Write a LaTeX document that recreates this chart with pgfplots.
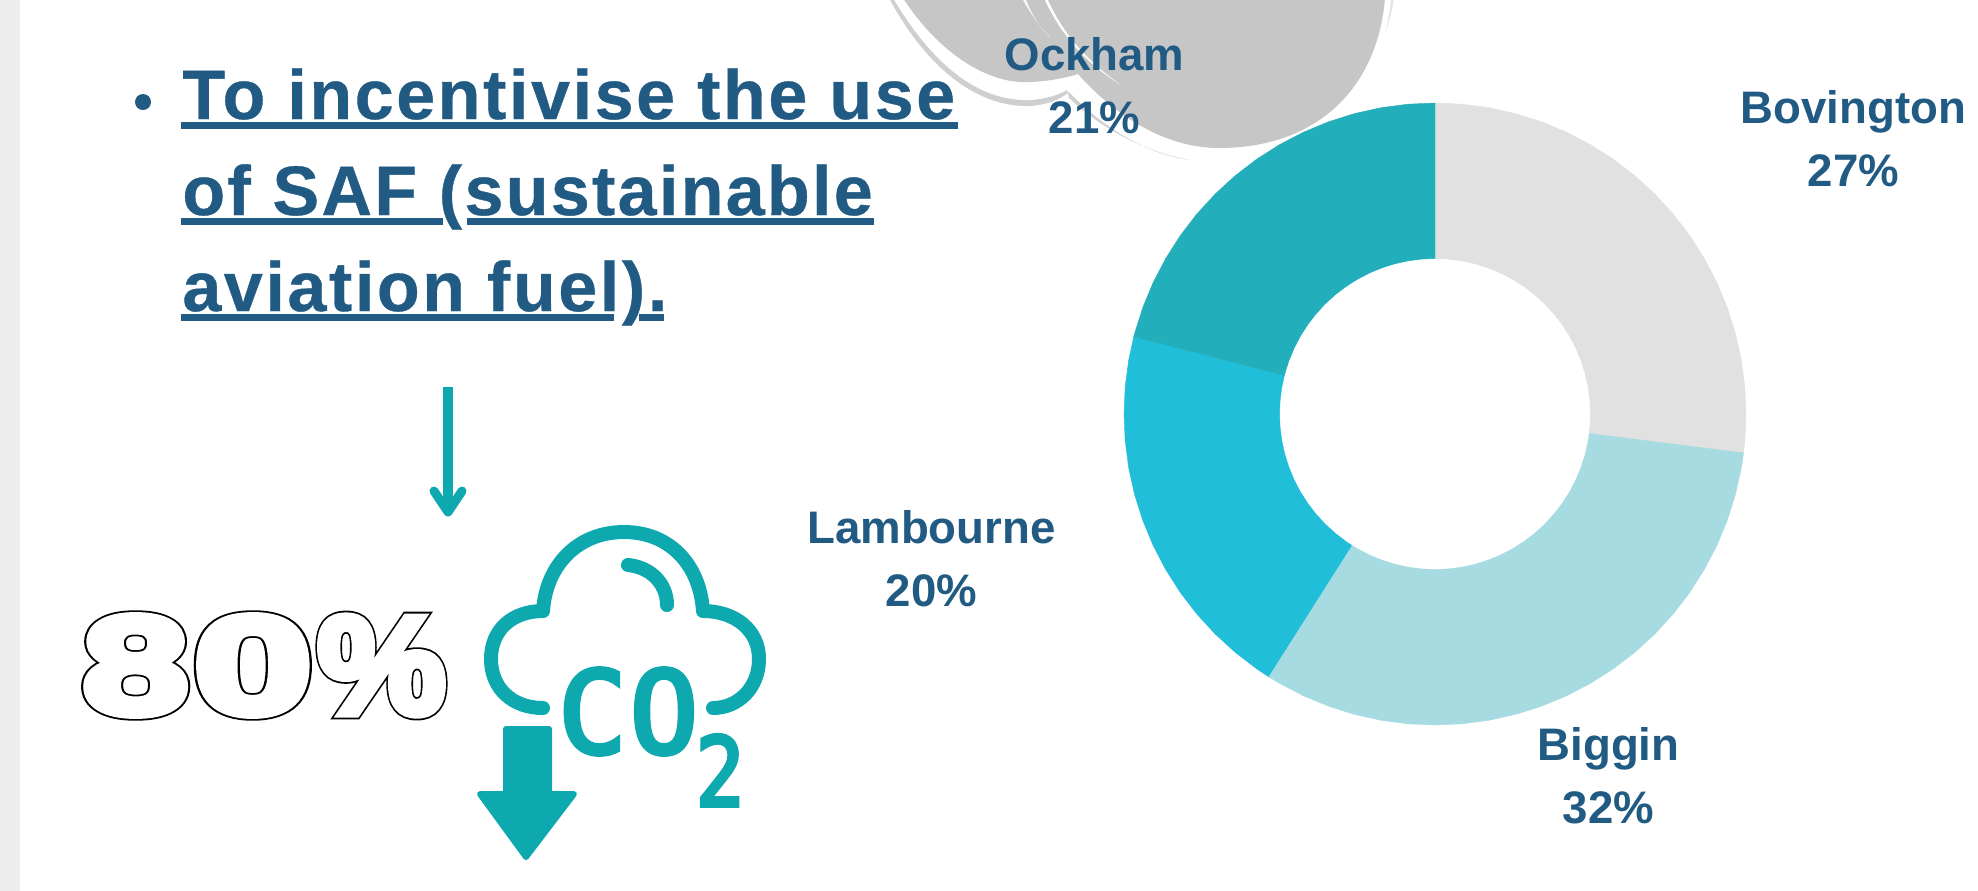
\documentclass[border=0pt]{standalone}
\usepackage{pgfplots}
\pgfplotsset{compat=1.18}
\usepackage{fontspec}
\setmainfont{Liberation Sans}
\newfontfamily\titlefont{Liberation Sans}[LetterSpace=3.7,FakeBold=0.5]
\newfontfamily\titlefontB{Liberation Sans}[LetterSpace=3.3,FakeBold=0.5]
\newfontfamily\heavyblack{Liberation Sans Bold}[FakeBold=9.2,FakeStretch=1.16]
\newfontfamily\heavywhite{Liberation Sans Bold}[FakeBold=6.6,FakeStretch=1.16]
\newfontfamily\iconfont{DejaVu Sans Mono}[FakeBold=4]

\definecolor{ink}{HTML}{215A82}
\definecolor{teal}{HTML}{0EA8AF}
\definecolor{blob}{HTML}{C6C6C6}
\definecolor{sliceA}{HTML}{E1E1E1}
\definecolor{sliceB}{HTML}{A6DBE2}
\definecolor{sliceC}{HTML}{20BED9}
\definecolor{sliceD}{HTML}{22AEBB}

% Outlined digits: a heavier black layer under a lighter white one
\newcommand{\outlined}[3]{%
  \node[anchor=base,inner sep=0pt,black,xscale=#3] at (#1,713) {\heavyblack\fontsize{69}{80}\selectfont #2};
  \node[anchor=base,inner sep=0pt,white,xscale=#3] at (#1,713) {\heavywhite\fontsize{69}{80}\selectfont #2};
}
% Two-line slice label, name above share
\newcommand{\slicelabel}[4]{%
  \node[anchor=base,inner sep=0pt,text=ink] at (#1,#2) {\bfseries\fontsize{22.8}{27}\selectfont #3};
  \node[anchor=base,inner sep=0pt,text=ink] at (#1,#2+63) {\bfseries\fontsize{22.8}{27}\selectfont #4};
}

\begin{document}
\begin{tikzpicture}[x=0.5pt,y=-0.5pt]
\path[use as bounding box] (0,0) rectangle (1978,890);
\clip (0,0) rectangle (1978,890);
\fill[white] (0,0) rectangle (1978,891);
\fill[black!7] (0,0) rectangle (20,891);

% Grey shapes at the top edge, with their shadow
\fill[black!19] (889,-2) .. controls (925,65) and (975,108) .. (1031,106)
  .. controls (1045,105) and (1060,100) .. (1069,92)
  .. controls (1105,130) and (1150,155) .. (1190,160)
  .. controls (1150,153) and (1105,132) .. (1069,98) -- (1060,60) -- (950,-2) -- cycle;
\fill[white] (893,-2) .. controls (930,60) and (975,102) .. (1031,100)
  .. controls (1045,99) and (1060,95) .. (1070,88)
  .. controls (1105,125) and (1150,150) .. (1186,158)
  -- (1300,100) -- (1200,-2) -- cycle;
\fill[blob] (903,-2) .. controls (940,55) and (990,85) .. (1031,82)
  .. controls (1050,81) and (1065,78) .. (1078,74)
  .. controls (1110,110) and (1160,148) .. (1219,148)
  .. controls (1320,148) and (1378,85) .. (1385,-2) -- cycle;
\fill[white] (1025,-2) .. controls (1032,15) and (1040,28) .. (1050,37)
  .. controls (1038,25) and (1030,12) .. (1022,-2) -- cycle;
\fill[white] (1047,-2) .. controls (1062,32) and (1085,60) .. (1121,85)
  .. controls (1090,66) and (1062,38) .. (1044,-2) -- cycle;
\fill[black!10] (1394,-2) .. controls (1392,12) and (1389,22) .. (1385,33)
  .. controls (1388,22) and (1390,10) .. (1391,-2) -- cycle;

% Donut: outer arc then inner arc of each slice, as (angle, radius)
\begin{axis}[
  at={(717.5pt,-207pt)},anchor=center,
  scale only axis,width=311pt,height=311pt,
  xmin=-1,xmax=1,ymin=-1,ymax=1,
  hide axis,clip=false]
\addplot[data cs=polar,fill=sliceA,draw=sliceA,line width=0.2pt] coordinates {
 (90,1)(85,1)(80,1)(75,1)(70,1)(65,1)(60,1)(55,1)(50,1)(45,1)(40,1)(35,1)(30,1)(25,1)(20,1)(15,1)(10,1)(5,1)(0,1)(-5,1)(-7.2,1)
 (-7.2,0.5)(-5,0.5)(0,0.5)(5,0.5)(10,0.5)(15,0.5)(20,0.5)(25,0.5)(30,0.5)(35,0.5)(40,0.5)(45,0.5)(50,0.5)(55,0.5)(60,0.5)(65,0.5)(70,0.5)(75,0.5)(80,0.5)(85,0.5)(90,0.5)
} -- cycle;
\addplot[data cs=polar,fill=sliceB,draw=sliceB,line width=0.2pt] coordinates {
 (-7.2,1)(-10,1)(-15,1)(-20,1)(-25,1)(-30,1)(-35,1)(-40,1)(-45,1)(-50,1)(-55,1)(-60,1)(-65,1)(-70,1)(-75,1)(-80,1)(-85,1)(-90,1)(-95,1)(-100,1)(-105,1)(-110,1)(-115,1)(-120,1)(-122.4,1)
 (-122.4,0.5)(-120,0.5)(-115,0.5)(-110,0.5)(-105,0.5)(-100,0.5)(-95,0.5)(-90,0.5)(-85,0.5)(-80,0.5)(-75,0.5)(-70,0.5)(-65,0.5)(-60,0.5)(-55,0.5)(-50,0.5)(-45,0.5)(-40,0.5)(-35,0.5)(-30,0.5)(-25,0.5)(-20,0.5)(-15,0.5)(-10,0.5)(-7.2,0.5)
} -- cycle;
\addplot[data cs=polar,fill=sliceC,draw=sliceC,line width=0.2pt] coordinates {
 (-122.4,1)(-125,1)(-130,1)(-135,1)(-140,1)(-145,1)(-150,1)(-155,1)(-160,1)(-165,1)(-170,1)(-175,1)(-180,1)(-185,1)(-190,1)(-194.4,1)
 (-194.4,0.5)(-190,0.5)(-185,0.5)(-180,0.5)(-175,0.5)(-170,0.5)(-165,0.5)(-160,0.5)(-155,0.5)(-150,0.5)(-145,0.5)(-140,0.5)(-135,0.5)(-130,0.5)(-125,0.5)(-122.4,0.5)
} -- cycle;
\addplot[data cs=polar,fill=sliceD,draw=sliceD,line width=0.2pt] coordinates {
 (-194.4,1)(-195,1)(-200,1)(-205,1)(-210,1)(-215,1)(-220,1)(-225,1)(-230,1)(-235,1)(-240,1)(-245,1)(-250,1)(-255,1)(-260,1)(-265,1)(-270,1)
 (-270,0.5)(-265,0.5)(-260,0.5)(-255,0.5)(-250,0.5)(-245,0.5)(-240,0.5)(-235,0.5)(-230,0.5)(-225,0.5)(-220,0.5)(-215,0.5)(-210,0.5)(-205,0.5)(-200,0.5)(-195,0.5)(-194.4,0.5)
} -- cycle;
\end{axis}

\slicelabel{1853.5}{123}{Bovington}{27\%}
\slicelabel{1608.5}{760}{Biggin}{32\%}
\slicelabel{931.5}{543}{Lambourne}{20\%}
\slicelabel{1094.5}{70}{Ockham}{21\%}

% Heading with its underlines, which stop short of the brackets
\fill[ink] (143,102) circle (8);
\begin{scope}[every node/.style={anchor=base west,inner sep=0pt,text=ink}]
\node at (182,119) {\titlefont\bfseries\fontsize{35}{42}\selectfont To incentivise the use};
\node at (182,215) {\titlefontB\bfseries\fontsize{35}{42}\selectfont of SAF (sustainable};
\node at (182,311) {\titlefont\bfseries\fontsize{35}{42}\selectfont aviation fuel).};
\end{scope}
\fill[ink] (181,122) rectangle (958,129);
\fill[ink] (181,218) rectangle (443,225);
\fill[ink] (467,218) rectangle (874,225);
\fill[ink] (181,314) rectangle (614,321);
\fill[ink] (639,314) rectangle (664,321);

% Thin arrow under the heading
\draw[teal,line width=5pt] (448,387) -- (448,508);
\draw[teal,line width=4.5pt,line cap=round,line join=round] (434,491) -- (448,512) -- (462,491);

% Outlined figure
\outlined{135.6}{8}{1.19}
\outlined{253}{0}{1.33}
\outlined{381.6}{\%}{0.9}

% Cloud with CO2 and a down arrow
\begin{scope}[teal,line width=7pt,line cap=round,line join=round]
\draw (543,708) .. controls (512,708) and (491,688) .. (491,659)
  .. controls (491,630) and (512,611) .. (543,611)
  .. controls (546,565) and (578,532) .. (624,532)
  .. controls (670,532) and (700,565) .. (703,611)
  .. controls (735,611) and (759,630) .. (759,659)
  .. controls (759,688) and (738,708) .. (713,708);
\draw (628,565) .. controls (650,567) and (667,583) .. (667,605);
\end{scope}
\node[anchor=base,inner sep=0pt,text=teal] at (592.5,753) {\iconfont\fontsize{57}{60}\selectfont C};
\node[anchor=base,inner sep=0pt,text=teal] at (664,753) {\iconfont\fontsize{57}{60}\selectfont O};
\node[anchor=base,inner sep=0pt,text=teal,xscale=0.85] at (720,806) {\iconfont\fontsize{48}{50}\selectfont 2};
\fill[teal,draw=teal,line width=3pt,line join=round]
  (506,729) -- (549,729) -- (549,794) -- (574,794) -- (526,857) -- (480,794) -- (506,794) -- cycle;
\end{tikzpicture}
\end{document}
